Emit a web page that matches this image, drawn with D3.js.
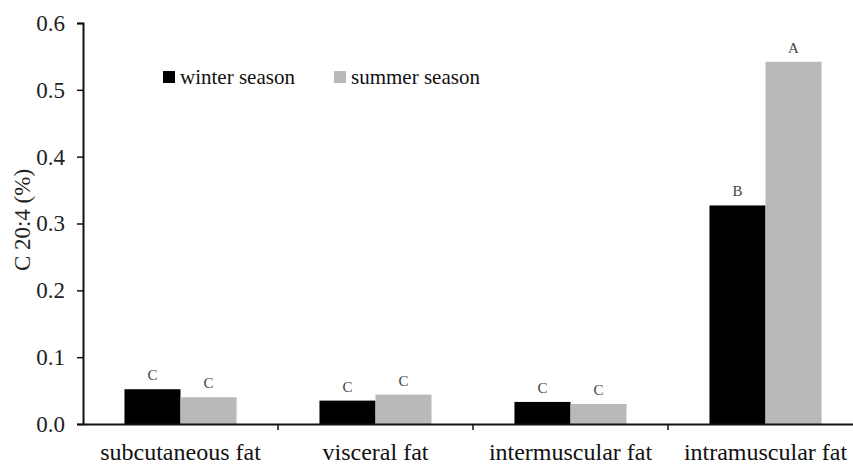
<!DOCTYPE html>
<html>
<head>
<meta charset="utf-8">
<script src="https://cdn.jsdelivr.net/npm/d3@7"></script>
<style>
body { margin: 0; background: #fff; }
svg text { font-family: "Liberation Serif", "DejaVu Serif", serif; }
</style>
</head>
<body>
<div id="chart"></div>
<script>
let categories = ["subcutaneous fat", "visceral fat", "intermuscular fat", "intramuscular fat"];
let seriesNames = ["winter season", "summer season"];
let winter = [0.052, 0.035, 0.033, 0.327];
let summer = [0.040, 0.044, 0.030, 0.542];
let winterLetters = ["C", "C", "C", "B"];
let summerLetters = ["C", "C", "C", "A"];
let yTicks = [0, 0.1, 0.2, 0.3, 0.4, 0.5, 0.6];

let W = 853, H = 465;
let colors = ["#000000", "#b9b9b9"];
let serif = "'Liberation Serif', 'DejaVu Serif', serif";

let svg = d3.select("#chart").append("svg")
	.attr("width", W)
	.attr("height", H);

let x = d3.scaleBand()
	.domain(categories)
	.range([83, 863])
	.paddingInner(0)
	.paddingOuter(0);

let y = d3.scaleLinear()
	.domain([0, 0.6])
	.range([424, 23]);

let inner = d3.scaleBand()
	.domain(seriesNames)
	.range([0, x.bandwidth()])
	.paddingInner(0)
	.paddingOuter(0.74);

// bars
let rows = categories.map(function (c, i) {
	return [
		{ cat: c, s: seriesNames[0], v: winter[i], lab: winterLetters[i] },
		{ cat: c, s: seriesNames[1], v: summer[i], lab: summerLetters[i] }
	];
});

let groups = svg.selectAll("g.grp")
	.data(rows)
	.enter().append("g")
	.attr("class", "grp")
	.attr("transform", function (d) {
		return "translate(" + x(d[0].cat) + ",0)";
	});

groups.selectAll("rect")
	.data(function (d) { return d; })
	.enter().append("rect")
	.attr("x", function (d) { return inner(d.s); })
	.attr("y", function (d) { return y(d.v); })
	.attr("width", inner.bandwidth())
	.attr("height", function (d) { return y(0) - y(d.v); })
	.attr("fill", function (d, i) { return colors[i]; });

groups.selectAll("text.sig")
	.data(function (d) { return d; })
	.enter().append("text")
	.attr("class", "sig")
	.attr("x", function (d) { return inner(d.s) + inner.bandwidth() / 2; })
	.attr("y", function (d) { return y(d.v) - 9; })
	.attr("text-anchor", "middle")
	.style("font-family", serif)
	.style("font-size", "15px")
	.attr("fill", "#444")
	.text(function (d) { return d.lab; });

// y axis
let yAxis = svg.append("g")
	.attr("transform", "translate(83,0)")
	.call(d3.axisLeft(y).tickValues(yTicks).tickFormat(d3.format(".1f")).tickSize(6).tickPadding(12));
yAxis.select(".domain").attr("stroke", "#111").attr("stroke-width", 2);
yAxis.selectAll(".tick line").attr("stroke", "#111").attr("stroke-width", 1.5);
yAxis.selectAll(".tick text")
	.style("font-family", serif)
	.style("font-size", "23px")
	.attr("fill", "#222");

// x axis
let xAxis = svg.append("g")
	.attr("transform", "translate(0,424)")
	.call(d3.axisBottom(x).tickSize(0).tickPadding(0));
xAxis.select(".domain").attr("stroke", "#111").attr("stroke-width", 2);
xAxis.selectAll(".tick text")
	.style("font-family", serif)
	.style("font-size", "24px")
	.attr("fill", "#111")
	.attr("dy", 0)
	.attr("y", 36);

// category separators
svg.selectAll("line.sep")
	.data(categories.slice(1))
	.enter().append("line")
	.attr("class", "sep")
	.attr("x1", function (d) { return x(d); })
	.attr("x2", function (d) { return x(d); })
	.attr("y1", 424)
	.attr("y2", 430)
	.attr("stroke", "#111")
	.attr("stroke-width", 1.5);

// y label
svg.append("text")
	.attr("transform", "translate(30,220) rotate(-90)")
	.attr("text-anchor", "middle")
	.style("font-family", serif)
	.style("font-size", "23px")
	.attr("fill", "#222")
	.text("C 20:4 (%)");

// legend
let leg = svg.selectAll("g.leg")
	.data(seriesNames)
	.enter().append("g")
	.attr("class", "leg")
	.attr("transform", function (d, i) {
		return "translate(" + [163, 334][i] + ",71)";
	});
leg.append("rect")
	.attr("width", 12)
	.attr("height", 12)
	.attr("fill", function (d, i) { return colors[i]; });
leg.append("text")
	.attr("x", 17)
	.attr("y", 13)
	.style("font-family", serif)
	.style("font-size", "21px")
	.attr("fill", "#111")
	.text(function (d) { return d; });
</script>
</body>
</html>
